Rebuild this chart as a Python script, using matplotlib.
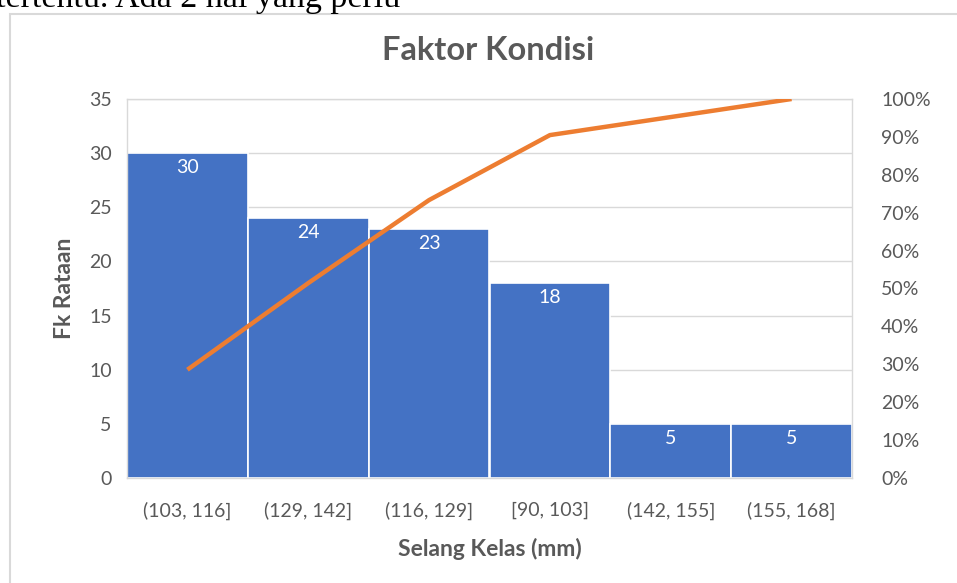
import matplotlib.pyplot as plt
import matplotlib.patches as patches
from matplotlib.ticker import PercentFormatter, MultipleLocator
import numpy as np

# Pareto data
categories = ["(103, 116]", "(129, 142]", "(116, 129]", "[90, 103]", "(142, 155]", "(155, 168]"]
fk_rataan = [30, 24, 23, 18, 5, 5]

plt.rcParams['font.family'] = ['Lato', 'DejaVu Sans']

BAR = '#4472C4'
LINE = '#ED7D31'
GRAY = '#595959'
GRID = '#D9D9D9'

fig = plt.figure(figsize=(9.57, 5.83), dpi=100)
ax = fig.add_axes([127 / 957, 1 - 478 / 583, 725 / 957, 379 / 583])

x = np.arange(len(categories))
ax.bar(x, fk_rataan, width=1.0, color=BAR, edgecolor='white', linewidth=1.2, zorder=2)
for xi, v in zip(x, fk_rataan):
    ax.annotate(str(v), (xi, v), xytext=(0, -10.5), textcoords='offset points',
                ha='center', va='center', color='white', fontsize=14)

ax.set_xlim(-0.5, len(categories) - 0.5)
ax.set_ylim(0, 35)
ax.yaxis.set_major_locator(MultipleLocator(5))
ax.grid(axis='y', color=GRID, linewidth=1, zorder=0)
ax.set_axisbelow(True)
ax.set_xticks(x)
ax.set_xticklabels(categories)
ax.tick_params(axis='both', length=0, labelsize=14, labelcolor=GRAY)
ax.tick_params(axis='y', pad=11)
ax.tick_params(axis='x', pad=17)
for s in ax.spines.values():
    s.set_color(GRID)
    s.set_linewidth(1)

ax.set_ylabel('Fk Rataan', fontsize=16.5, fontweight='bold', color=GRAY, labelpad=10)
ax.set_xlabel('Selang Kelas (mm)', fontsize=16.5, fontweight='bold', color=GRAY, labelpad=13)

# cumulative percentage on the right axis
cum = np.cumsum(fk_rataan) / np.sum(fk_rataan)
ax2 = ax.twinx()
ax2.plot(x, cum, color=LINE, linewidth=3.2, solid_capstyle='butt', zorder=3)
ax2.set_ylim(0, 1)
ax2.yaxis.set_major_locator(MultipleLocator(0.1))
ax2.yaxis.set_major_formatter(PercentFormatter(1.0, decimals=0))
ax2.tick_params(axis='y', length=0, labelsize=14, labelcolor=GRAY, pad=21)
for s in ax2.spines.values():
    s.set_visible(False)

fig.text(488 / 957, 1 - 50 / 583, 'Faktor Kondisi', ha='center', va='center',
         fontsize=23.5, fontweight='bold', color=GRAY)

# chart frame and the cropped document text above it
fig.patches.append(patches.Rectangle((9.5 / 957, -0.1), 1.2, 1 - 14.5 / 583 + 0.1,
                                     transform=fig.transFigure, fill=False,
                                     edgecolor=GRID, linewidth=1.5))
fig.text(-0.004, 1 - 7 / 583, 'tertentu. Ada 2 hal yang perlu', ha='left', va='baseline',
         fontsize=24.5, family='Liberation Serif', color='black')

plt.savefig('out.png', dpi=100)
